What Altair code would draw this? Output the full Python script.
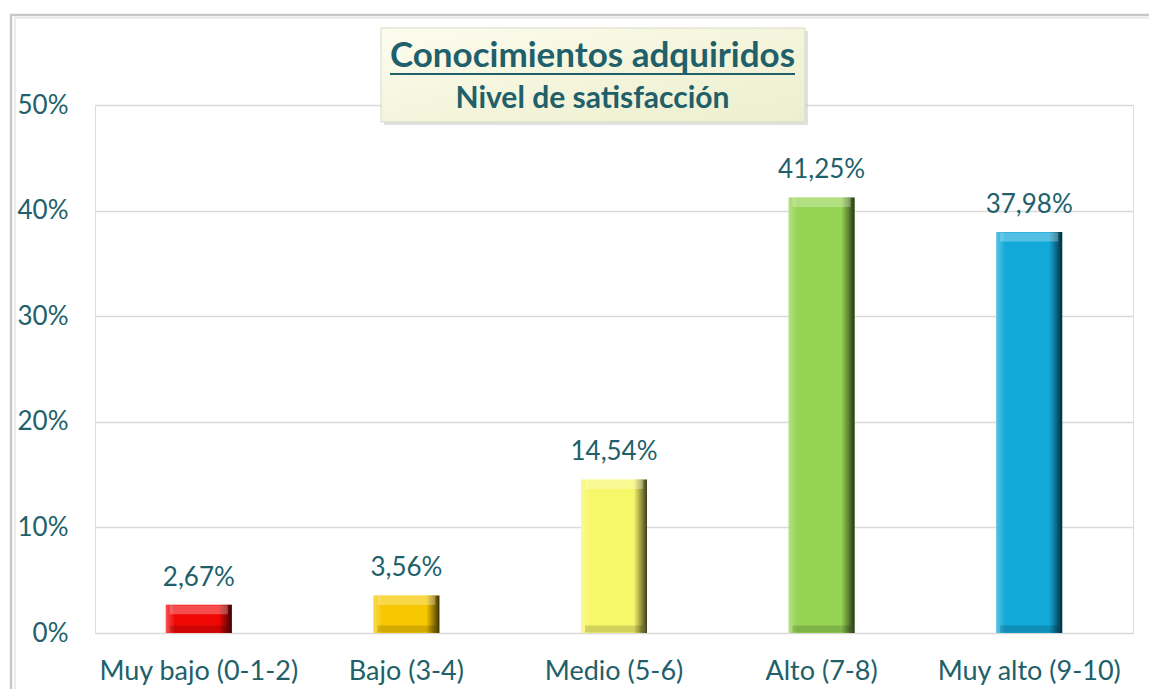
import altair as alt
import pandas as pd

categories = ["Muy bajo (0-1-2)", "Bajo (3-4)", "Medio (5-6)", "Alto (7-8)", "Muy alto (9-10)"]
values_pct = [2.67, 3.56, 14.54, 41.25, 37.98]
bar_colors = ["#F20707", "#F7C800", "#F7F76A", "#95D352", "#12A8D8"]
y_ticks = [0, 0.1, 0.2, 0.3, 0.4, 0.5]
title_text = "Conocimientos adquiridos"
subtitle_text = "Nivel de satisfacción"

TEXT = "#215F6A"
FONT = "Lato"

df = pd.DataFrame({
    "cat": categories,
    "val": [v / 100 for v in values_pct],
    "label": [f"{v:.2f}".replace(".", ",") + "%" for v in values_pct],
})
one = pd.DataFrame({"k": [0]})

x_enc = alt.X("cat:N", sort=categories,
              scale=alt.Scale(paddingInner=0, paddingOuter=0),
              axis=alt.Axis(title=None, labelAngle=0, ticks=False, domain=False,
                            labelFont=FONT, labelFontSize=27, labelColor=TEXT,
                            labelPadding=46, labelBaseline="alphabetic", labelLimit=400,
                            grid=False))
y_enc = alt.Y("val:Q", scale=alt.Scale(domain=[0, 0.5], nice=False),
              axis=alt.Axis(title=None, format=".0%", values=y_ticks, ticks=False,
                            domain=False, labelFont=FONT, labelFontSize=26,
                            labelColor=TEXT, labelPadding=27, gridColor="#D9D9D9",
                            gridWidth=1.5))

base = alt.Chart(df)

frame = alt.Chart(one).mark_rect(fill="transparent", stroke="#C8C8C8", strokeWidth=2.5).encode(
    x=alt.value(-84), x2=alt.value(1200), y=alt.value(-90), y2=alt.value(700))
frame2 = alt.Chart(one).mark_rect(fill="transparent", stroke="#E6E6E6", strokeWidth=1.5).encode(
    x=alt.value(-80), x2=alt.value(1200), y=alt.value(-87), y2=alt.value(700))

bars = base.mark_bar(width=66).encode(
    x=x_enc, y=y_enc,
    color=alt.Color("cat:N", scale=alt.Scale(domain=categories, range=bar_colors), legend=None))

shade = base.mark_bar(width=66, color=alt.Gradient(
    gradient="linear", x1=0, x2=1, y1=0, y2=0,
    stops=[alt.GradientStop(color="rgba(255,255,255,0.30)", offset=0),
           alt.GradientStop(color="rgba(255,255,255,0.0)", offset=0.14),
           alt.GradientStop(color="rgba(0,0,0,0.0)", offset=0.80),
           alt.GradientStop(color="rgba(0,0,0,0.35)", offset=0.90),
           alt.GradientStop(color="rgba(0,0,0,0.75)", offset=1)])).encode(
    x=alt.X("cat:N", sort=categories), y="val:Q")

top_hl = base.mark_tick(size=58, thickness=9, yOffset=5, color="white", opacity=0.28).encode(
    x=alt.X("cat:N", sort=categories), y="val:Q")
bot_sh = base.mark_tick(size=58, thickness=7, yOffset=-4, color="black", opacity=0.15).encode(
    x=alt.X("cat:N", sort=categories), y=alt.datum(0))

labels = base.mark_text(font=FONT, fontSize=26, color=TEXT, baseline="alphabetic", dy=-19).encode(
    x=alt.X("cat:N", sort=categories), y="val:Q", text="label:N")

box_shadow = alt.Chart(one).mark_rect(fill="#BDBDBD", opacity=0.45).encode(
    x=alt.value(289), x2=alt.value(713), y=alt.value(-74), y2=alt.value(20))
box = alt.Chart(one).mark_rect(stroke="#D9D9C4", strokeWidth=1, color=alt.Gradient(
    gradient="linear", x1=0, x2=1, y1=0, y2=1,
    stops=[alt.GradientStop(color="#FDFDF0", offset=0),
           alt.GradientStop(color="#F4F5DC", offset=0.5),
           alt.GradientStop(color="#ECEFCF", offset=1)])).encode(
    x=alt.value(286), x2=alt.value(710), y=alt.value(-77), y2=alt.value(17))

t1 = alt.Chart(one).mark_text(text=title_text, font=FONT, fontWeight="bold", fontSize=35,
                              color=TEXT, align="center", baseline="alphabetic").encode(
    x=alt.value(497.5), y=alt.value(-38))
uline = alt.Chart(one).mark_rule(color=TEXT, strokeWidth=2).encode(
    x=alt.value(295), x2=alt.value(700), y=alt.value(-31))
t2 = alt.Chart(one).mark_text(text=subtitle_text, font=FONT, fontWeight="bold", fontSize=30,
                              color=TEXT, align="center", baseline="alphabetic").encode(
    x=alt.value(497.5), y=alt.value(3))

chart = alt.layer(frame, frame2, bars, shade, top_hl, bot_sh, labels,
                  box_shadow, box, t1, uline, t2).properties(
    width=1038, height=528,
    autosize=alt.AutoSizeParams(type="none"),
    padding={"left": 87, "top": 97, "right": 16, "bottom": 56},
).configure_view(stroke=None).configure(background="white")

chart.save("out.html", embed_options={"renderer": "svg", "actions": False})
